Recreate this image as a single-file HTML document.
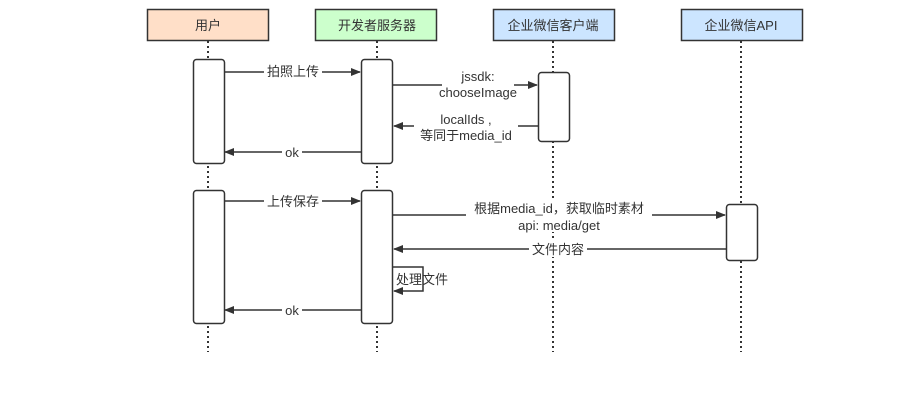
<!DOCTYPE html>
<html><head><meta charset="utf-8"><style>
body{margin:0;background:#fff;}
svg{display:block;font-family:"Liberation Sans","Noto Sans CJK SC",sans-serif;}
text{font-size:13px;fill:#333;}
</style></head><body>
<svg width="901" height="405" viewBox="0 0 901 405">
<defs><marker id="a" markerWidth="10" markerHeight="8" refX="9" refY="4" orient="auto" markerUnits="userSpaceOnUse"><path d="M0,0 L10,4 L0,8 Z" fill="#333"/></marker></defs>
<g stroke="#333" stroke-width="2" stroke-dasharray="2,3">
<line x1="208" y1="41" x2="208" y2="352"/><line x1="377" y1="41" x2="377" y2="352"/>
<line x1="553" y1="41" x2="553" y2="352"/><line x1="741" y1="41" x2="741" y2="352"/>
</g>
<g stroke="#333" stroke-width="1.5">
<rect x="147.5" y="9.5" width="121" height="31" fill="#ffdfc8"/>
<rect x="315.5" y="9.5" width="121" height="31" fill="#ccffcc"/>
<rect x="493.5" y="9.5" width="121" height="31" fill="#cce5ff"/>
<rect x="681.5" y="9.5" width="121" height="31" fill="#cce5ff"/>
<rect x="193.5" y="59.5" width="31" height="104" rx="3" fill="#fff"/>
<rect x="193.5" y="190.5" width="31" height="133" rx="3" fill="#fff"/>
<rect x="361.5" y="59.5" width="31" height="104" rx="3" fill="#fff"/>
<rect x="361.5" y="190.5" width="31" height="133" rx="3" fill="#fff"/>
<rect x="538.5" y="72.5" width="31" height="69" rx="3" fill="#fff"/>
<rect x="726.5" y="204.5" width="31" height="56" rx="3" fill="#fff"/>
</g>
<g text-anchor="middle">
<text x="208" y="30">用户</text><text x="377" y="30">开发者服务器</text>
<text x="553" y="30">企业微信客户端</text><text x="741" y="30">企业微信API</text>
</g>
<g stroke="#333" stroke-width="1.5" fill="none" marker-end="url(#a)">
<path d="M225,72 H360"/>
<path d="M393,85 H537"/>
<path d="M538,126 H394"/>
<path d="M361,152 H225"/>
<path d="M225,201 H360"/>
<path d="M393,215 H725"/>
<path d="M726,249 H394"/>
<path d="M393,267 H423 V291 H394"/>
<path d="M361,310 H225"/>
</g>
<g text-anchor="middle">
<rect x="264" y="64" width="58" height="16" fill="#fff"/><text x="293" y="76">拍照上传</text>
<rect x="442" y="68" width="72" height="32" fill="#fff"/><text x="478" y="81">jssdk:</text><text x="478" y="97">chooseImage</text>
<rect x="414" y="110" width="104" height="34" fill="#fff"/><text x="466" y="124">localIds ,</text><text x="466" y="140">等同于media_id</text>
<rect x="282" y="144" width="20" height="16" fill="#fff"/><text x="292" y="157">ok</text>
<rect x="264" y="193" width="58" height="16" fill="#fff"/><text x="293" y="206">上传保存</text>
<rect x="466" y="200" width="186" height="32" fill="#fff"/><text x="559" y="213">根据media_id，获取临时素材</text><text x="559" y="230">api: media/get</text>
<rect x="529" y="241" width="58" height="16" fill="#fff"/><text x="558" y="254">文件内容</text>
<text x="396" y="284" text-anchor="start">处理文件</text>
<rect x="282" y="302" width="20" height="16" fill="#fff"/><text x="292" y="315">ok</text>
</g>
</svg>
</body></html>
